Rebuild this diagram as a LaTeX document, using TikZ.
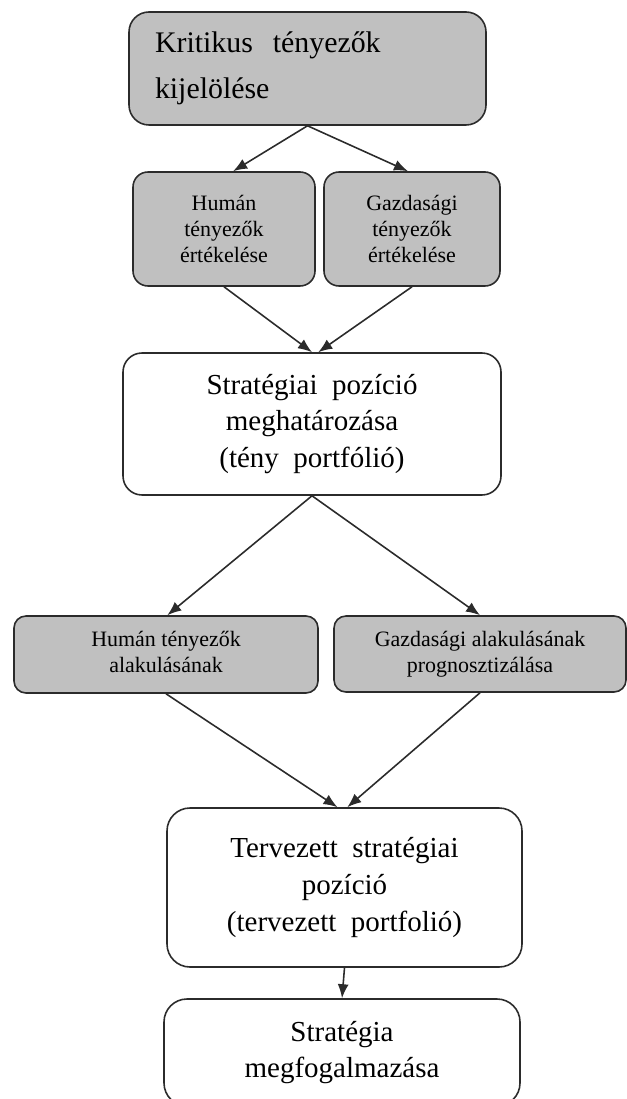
\documentclass[tikz,border=0pt]{standalone}
\usepackage{fontspec}
\setmainfont{Liberation Serif}
\usetikzlibrary{arrows.meta,positioning}
\definecolor{fa-gray}{HTML}{C0C0C0}
\definecolor{fa-line}{HTML}{2B2B2B}

\begin{document}
\begin{tikzpicture}[
    >={Latex[length=2.8mm,width=2.2mm]},
    font=\fontsize{16.5}{21}\selectfont
  ]

  % Box and connector styles
  \tikzset{
    base/.style={draw=fa-line, line width=0.9pt, align=center, inner sep=0pt},
    shaded/.style={base, fill=fa-gray},
    plain/.style={base, fill=white},
    small/.style={font=\fontsize{12.5}{14.8}\selectfont},
    flow/.style={->, fa-line, line width=0.9pt}
  }

  \useasboundingbox (0,0) rectangle (12.54,-21.98);

  % Critical factors
  \node (crit) [shaded, rounded corners=0.4cm, minimum width=7.14cm, minimum height=2.26cm, text width=6.1cm, align=left, font=\fontsize{17}{26}\selectfont] at (6.15,-1.37) {Kritikus\ \ tényezők\\kijelölése};

  % Evaluation pair
  \node (humeval)  [shaded, small, rounded corners=0.3cm, minimum width=3.64cm, minimum height=2.28cm] at (4.48,-4.58) {Humán\\tényezők\\értékelése};
  \node (gazdeval) [shaded, small, rounded corners=0.3cm, minimum width=3.52cm, minimum height=2.28cm] at (8.24,-4.58) {Gazdasági\\tényezők\\értékelése};

  % Strategic position
  \node (pos) [plain, rounded corners=0.38cm, minimum width=7.56cm, minimum height=2.84cm] at (6.24,-8.48) {Stratégiai\ \ pozíció\\meghatározása\\(tény\ \ portfólió)};

  % Forecast pair
  \node (humprog)  [shaded, small, rounded corners=0.24cm, minimum width=6.08cm, minimum height=1.54cm] at (3.32,-13.09) {Humán tényezők\\alakulásának\vphantom{g}};
  \node (gazdprog) [shaded, small, rounded corners=0.24cm, minimum width=5.84cm, minimum height=1.52cm] at (9.6,-13.08) {Gazdasági alakulásának\\prognosztizálása};

  % Planned position and strategy
  \node (plan) [plain, rounded corners=0.46cm, minimum width=7.1cm, minimum height=3.18cm] at (6.89,-17.75) {Tervezett\ \ stratégiai\\pozíció\\(tervezett\ \ portfolió)};
  \node (form) [plain, rounded corners=0.46cm, minimum width=7.12cm, minimum height=2.14cm] at (6.84,-21.05) {Stratégia\\megfogalmazása};

  % Connectors
  \draw[flow] (crit.south) -- (humeval.81);
  \draw[flow] (crit.south) -- (gazdeval.94);
  \draw[flow] (humeval.south) -- (pos.90);
  \draw[flow] (gazdeval.south) -- (pos.85);
  \draw[flow] (pos.south) -- (humprog.88);
  \draw[flow] (pos.south) -- (gazdprog.north);
  \draw[flow] (humprog.south) -- (plan.95);
  \draw[flow] (gazdprog.south) -- (plan.88);
  \draw[flow] (plan.south) -- (form.north);

\end{tikzpicture}
\end{document}
